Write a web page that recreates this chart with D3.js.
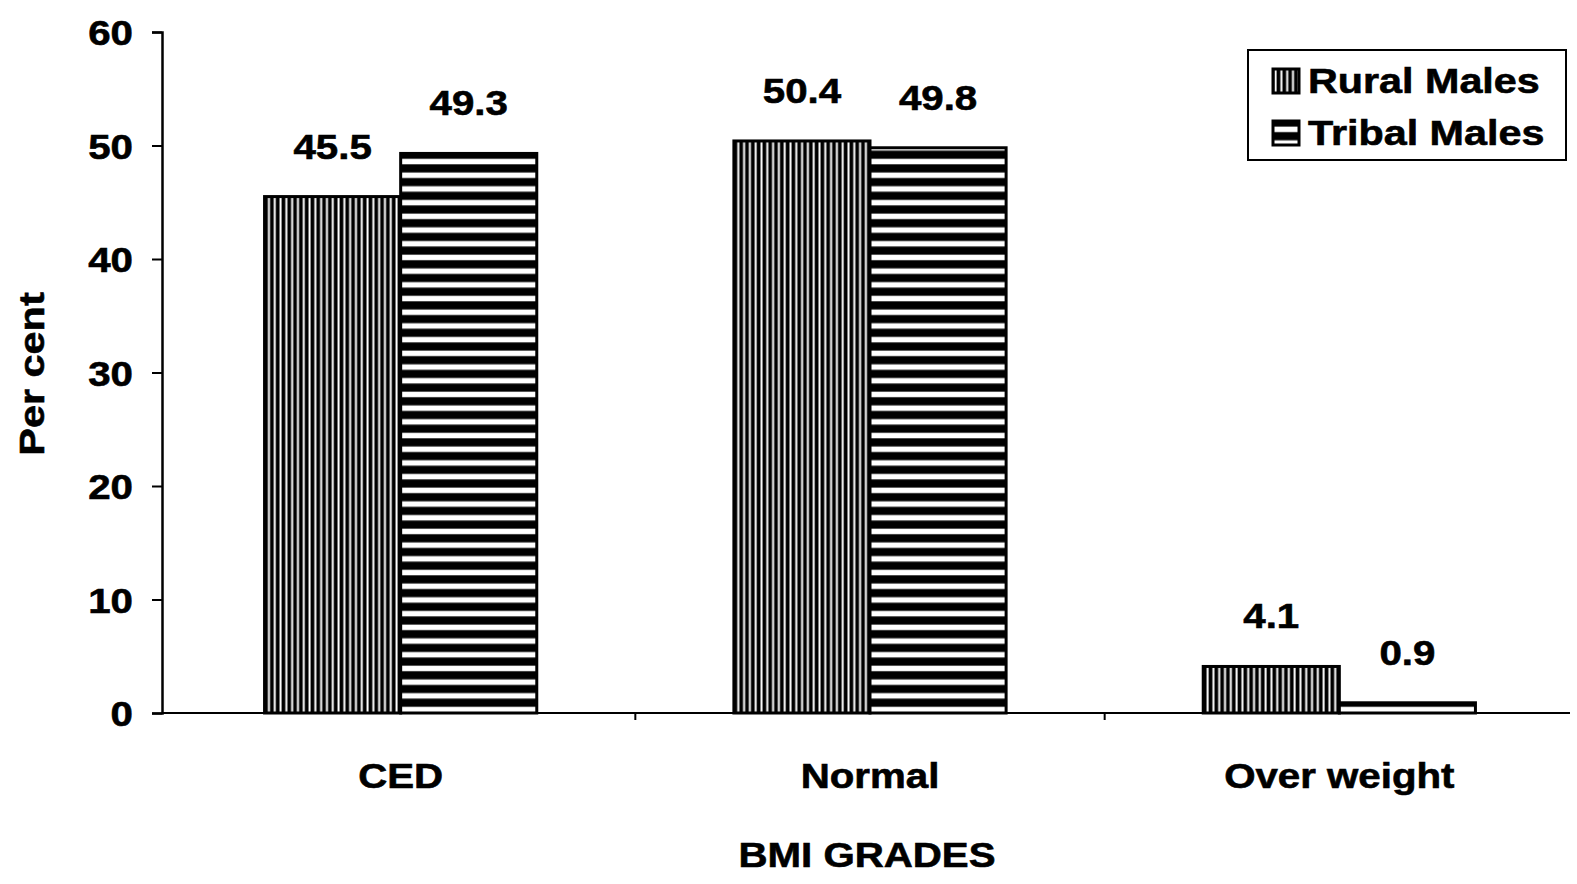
<!DOCTYPE html>
<html><head><meta charset="utf-8">
<script src="https://cdn.jsdelivr.net/npm/d3@7"></script>
<style>
body{margin:0;background:#fff;}
text{font-family:"Liberation Sans",Arial,sans-serif;font-weight:bold;fill:#000;stroke:#000;stroke-width:0.6px;}
</style></head>
<body><svg id="c" width="1577" height="884"></svg>
<script>
const categories = ["CED", "Normal", "Over weight"];
const seriesNames = ["Rural Males", "Tribal Males"];
const ruralValues = [45.5, 50.4, 4.1];
const tribalValues = [49.3, 49.8, 0.9];
const yTicks = [0, 10, 20, 30, 40, 50, 60];
const xTitle = "BMI GRADES";
const yTitle = "Per cent";

(function(){
const svg = d3.select("#c");
const SX = 1.15;
const defs = svg.append("defs");
const pv = defs.append("pattern").attr("id","pv").attr("patternUnits","userSpaceOnUse").attr("width",5.8).attr("height",10);
pv.append("rect").attr("width",5.8).attr("height",10).attr("fill","#000");
pv.append("rect").attr("x",3.4).attr("width",2).attr("height",10).attr("fill","#fff");
const ph = defs.append("pattern").attr("id","ph").attr("patternUnits","userSpaceOnUse").attr("width",10).attr("height",13.7).attr("y",713);
ph.append("rect").attr("width",10).attr("height",13.7).attr("fill","#000");
ph.append("rect").attr("y",7.5).attr("width",10).attr("height",5.5).attr("fill","#fff");

const axisX = 162, mLeft = 166, mRight = 1574, mTop = 32, mBottom = 713;
const y = d3.scaleLinear().domain([0, 60]).range([mBottom, mTop]);
const x0 = d3.scaleBand().domain(categories).range([mLeft, mRight]).paddingInner(0.42).paddingOuter(0.21);
const x1 = d3.scaleBand().domain(seriesNames).range([0, x0.bandwidth()]);
const fills = {"Rural Males":"url(#pv)","Tribal Males":"url(#ph)"};

const data = categories.map((c,i)=>({cat:c, vals:[{s:seriesNames[0],v:ruralValues[i]},{s:seriesNames[1],v:tribalValues[i]}]}));

const ya = svg.append("g").attr("transform",`translate(${axisX},0)`)
  .call(d3.axisLeft(y).tickValues(yTicks).tickSize(10).tickSizeOuter(10));
ya.select(".domain").attr("stroke","#000").attr("stroke-width",2.5);
ya.selectAll(".tick line").attr("stroke","#000").attr("stroke-width",2);
ya.selectAll(".tick text").style("font-size","35px").attr("font-family",null)
  .attr("x",0).attr("dy","0.36em").attr("transform",`translate(-29,0) scale(${SX},1)`);

svg.append("line").attr("x1",axisX).attr("x2",1570).attr("y1",mBottom).attr("y2",mBottom).attr("stroke","#000").attr("stroke-width",2);
[1,2].forEach(k=>{
  const xx = mLeft + k*x0.step();
  svg.append("line").attr("x1",xx).attr("x2",xx).attr("y1",mBottom).attr("y2",mBottom+7).attr("stroke","#000").attr("stroke-width",2);
});
const xa = svg.append("g").attr("transform",`translate(0,${mBottom})`).call(d3.axisBottom(x0).tickSize(0));
xa.select(".domain").remove();
xa.selectAll(".tick text").style("font-size","35px").attr("font-family",null)
  .attr("y",0).attr("dy",0).attr("transform",`translate(0,75) scale(${SX},1)`);

const g = svg.append("g").selectAll("g").data(data).join("g").attr("transform",d=>`translate(${x0(d.cat)},0)`);
g.selectAll("rect").data(d=>d.vals).join("rect")
  .attr("x",d=>x1(d.s)).attr("width",x1.bandwidth())
  .attr("y",d=>y(d.v)).attr("height",d=>mBottom-y(d.v))
  .attr("fill",d=>fills[d.s]).attr("stroke","#000").attr("stroke-width",3);
g.selectAll("text").data(d=>d.vals).join("text")
  .attr("transform",d=>`translate(${x1(d.s)+x1.bandwidth()/2},${y(d.v)-38}) scale(${SX},1)`)
  .attr("text-anchor","middle").style("font-size","35px").text(d=>d.v.toFixed(1));

svg.append("text").attr("transform",`translate(867,867) scale(${SX},1)`).attr("text-anchor","middle").style("font-size","35px").text(xTitle);
svg.append("text").attr("transform",`translate(44,374) rotate(-90) scale(${SX},1)`).attr("text-anchor","middle").style("font-size","36px").text(yTitle);

const lg = svg.append("g").attr("transform","translate(1248,50)");
lg.append("rect").attr("width",318).attr("height",110).attr("fill","#fff").attr("stroke","#000").attr("stroke-width",2);
seriesNames.forEach((s,i)=>{
  lg.append("rect").attr("x",25).attr("y",19+i*52).attr("width",26).attr("height",24).attr("fill",fills[s]).attr("stroke","#000").attr("stroke-width",3);
  lg.append("text").attr("transform",`translate(60,${43+i*52}) scale(1.18,1)`).style("font-size","35px").text(s);
});
})();
</script></body></html>
